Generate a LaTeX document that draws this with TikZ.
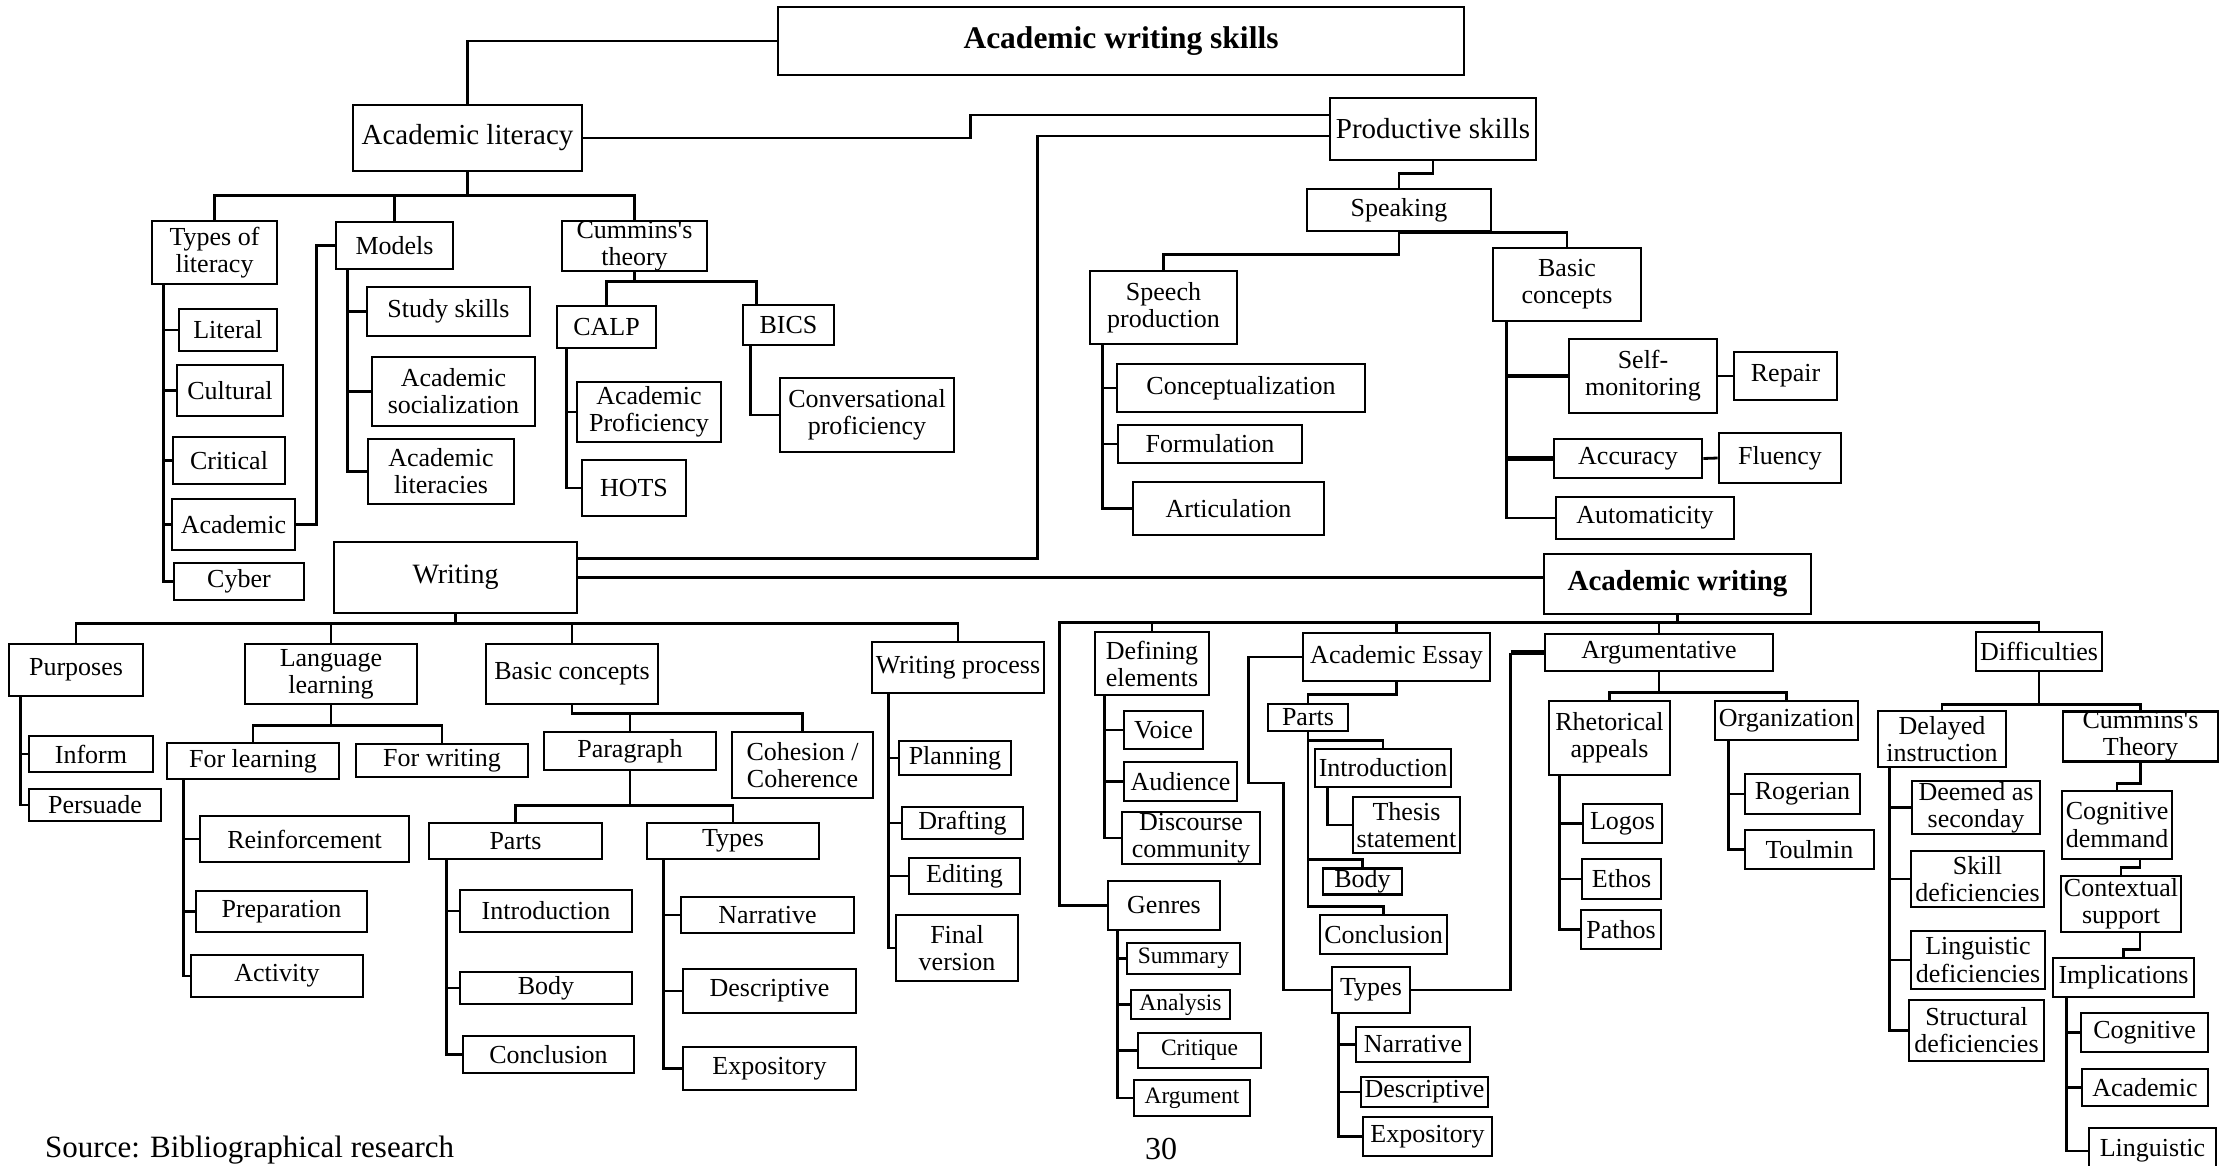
\documentclass[tikz,border=0pt]{standalone}
\usepackage{fontspec}
\setmainfont{Liberation Serif}
\newcommand\fsz[1]{\fontsize{#1pt}{1.04\dimexpr#1pt\relax}\selectfont}
\tikzset{
  box/.style={draw, line width=2.8pt, inner sep=1pt, align=center, font=\fsz{26}},
  ln/.style={line width=2.8pt},
  thk/.style={line width=4.6pt}
}
% #1 options, #2 name, #3 x1, #4 y1, #5 x2, #6 y2, #7 text
\newcommand\Bx[7][]{\node[box,minimum width={(#5)-(#3)-2},minimum height={(#6)-(#4)-2},#1] (#2) at ({((#3)+(#5))/2},{((#4)+(#6))/2}) {#7};}
\begin{document}
\begin{tikzpicture}[x=1pt,y=-1pt]
\useasboundingbox (0,0) rectangle (2221,1165);
\fill[white] (0,0) rectangle (2221,1165);

% ---------- top level
\Bx[font={\fsz{31.5}\bfseries}]{aws}{777}{6}{1465}{76}{Academic writing skills}
\Bx[font=\fsz{29}]{al}{352}{104}{583}{172}{Academic literacy}
\Bx[font=\fsz{29}]{ps}{1329}{97}{1537}{161}{Productive skills}
\Bx[font=\fsz{28}]{wr}{333}{541}{578}{614}{Writing}
\Bx[font={\fsz{29}\bfseries}]{aw}{1543}{553}{1812}{615}{Academic writing}

% ---------- academic literacy branch
\Bx{tol}{151}{220}{278}{285}{Types of\\literacy}
\Bx{mod}{335}{221}{454}{270}{Models}
\Bx[inner sep=0pt]{cum}{561}{220}{708}{272}{Cummins{\textquotesingle}s\\theory}
\Bx{lit}{178}{308}{278}{352}{Literal}
\Bx{cul}{176}{364}{284}{417}{Cultural}
\Bx{cri}{172}{436}{286}{485}{Critical}
\Bx{aca}{171}{498}{296}{551}{Academic}
\Bx{cyb}{173}{562}{305}{601}{Cyber}
\Bx{stu}{366}{286}{531}{337}{Study skills}
\Bx{soc}{371}{356}{536}{427}{Academic\\socialization}
\Bx{lts}{367}{438}{515}{505}{Academic\\literacies}
\Bx{calp}{556}{305}{657}{349}{CALP}
\Bx{bics}{742}{304}{835}{346}{BICS}
\Bx{apr}{576}{381}{722}{443}{Academic\\Proficiency}
\Bx{hots}{581}{459}{687}{517}{HOTS}
\Bx{conv}{779}{377}{955}{453}{Conversational\\proficiency}

% ---------- speaking branch
\Bx{spk}{1306}{188}{1492}{232}{Speaking}
\Bx{spp}{1089}{270}{1238}{345}{Speech\\production}
\Bx{bcs}{1492}{247}{1642}{322}{Basic\\concepts}
\Bx{con}{1116}{363}{1366}{413}{Conceptualization}
\Bx{frm}{1117}{424}{1303}{464}{Formulation}
\Bx{art}{1132}{481}{1325}{536}{Articulation}
\Bx{sm}{1568}{338}{1718}{414}{Self-\\monitoring}
\Bx{rep}{1733}{351}{1838}{401}{Repair}
\Bx{acc}{1553}{438}{1703}{479}{Accuracy}
\Bx{flu}{1718}{432}{1842}{484}{Fluency}
\Bx{aut}{1555}{496}{1735}{540}{Automaticity}

% ---------- writing branch
\Bx{pur}{8}{643}{144}{697}{Purposes}
\Bx{ll}{244}{643}{418}{705}{Language\\learning}
\Bx{bcw}{485}{643}{659}{705}{Basic concepts}
\Bx{wp}{871}{641}{1045}{694}{Writing process}
\Bx{inf}{28}{735}{154}{773}{Inform}
\Bx{per}{28}{788}{162}{822}{Persuade}
\Bx{fl}{166}{742}{340}{780}{For learning}
\Bx{fw}{355}{743}{529}{778}{For writing}
\Bx{rei}{199}{815}{410}{863}{Reinforcement}
\Bx{pre}{195}{890}{368}{933}{Preparation}
\Bx{act}{190}{954}{364}{998}{Activity}
\Bx{par}{543}{731}{717}{771}{Paragraph}
\Bx{coh}{731}{731}{874}{799}{Cohesion /\\Coherence}
\Bx{prt}{428}{822}{603}{860}{Parts}
\Bx{typ}{646}{822}{820}{860}{Types}
\Bx{intro}{459}{889}{633}{933}{Introduction}
\Bx{body}{459}{971}{633}{1005}{Body}
\Bx{conc}{462}{1035}{635}{1074}{Conclusion}
\Bx{nar}{680}{896}{855}{934}{Narrative}
\Bx{des}{682}{968}{857}{1014}{Descriptive}
\Bx{exp}{682}{1046}{857}{1091}{Expository}
\Bx{pla}{898}{740}{1012}{776}{Planning}
\Bx{dra}{901}{806}{1024}{840}{Drafting}
\Bx{edi}{908}{857}{1021}{895}{Editing}
\Bx{fin}{895}{914}{1019}{982}{Final\\version}

% ---------- academic writing branch
\Bx{def}{1094}{631}{1210}{696}{Defining\\elements}
\Bx{gen}{1107}{880}{1221}{931}{Genres}
\Bx{voi}{1123}{710}{1204}{750}{Voice}
\Bx{aud}{1123}{761}{1238}{802}{Audience}
\Bx{dis}{1121}{811}{1261}{865}{Discourse\\community}
\Bx[font=\fsz{23.5}]{sum}{1126}{942}{1241}{975}{Summary}
\Bx[font=\fsz{23.5}]{ana}{1130}{989}{1231}{1020}{Analysis}
\Bx[font=\fsz{23.5}]{crq}{1137}{1032}{1262}{1069}{Critique}
\Bx[font=\fsz{23.5}]{agm}{1133}{1079}{1251}{1117}{Argument}
\Bx{ae}{1302}{632}{1491}{682}{Academic Essay}
\Bx{pt2}{1267}{703}{1349}{732}{Parts}
\Bx{in2}{1314}{748}{1452}{788}{Introduction}
\Bx{th}{1352}{796}{1461}{854}{Thesis\\statement}
\Bx{bo2}{1322}{868}{1403}{895}{Body}
\Bx{cn2}{1319}{914}{1448}{955}{Conclusion}
\Bx{ty2}{1331}{966}{1411}{1014}{Types}
\Bx{na2}{1355}{1026}{1471}{1063}{Narrative}
\Bx{de2}{1360}{1076}{1489}{1108}{Descriptive}
\Bx{ex2}{1362}{1116}{1493}{1157}{Expository}
\Bx{arg}{1544}{633}{1774}{672}{Argumentative}
\Bx{rha}{1548}{700}{1671}{776}{Rhetorical\\appeals}
\Bx{org}{1714}{700}{1859}{741}{Organization}
\Bx{log}{1582}{803}{1663}{844}{Logos}
\Bx{eth}{1581}{858}{1662}{900}{Ethos}
\Bx{pat}{1580}{909}{1662}{950}{Pathos}
\Bx{rog}{1744}{773}{1861}{815}{Rogerian}
\Bx{tou}{1744}{829}{1875}{870}{Toulmin}
\Bx{dif}{1975}{631}{2103}{672}{Difficulties}
\Bx{del}{1877}{710}{2007}{768}{Delayed\\instruction}
\Bx[inner sep=0pt]{ct}{2062}{712}{2219}{761}{Cummins{\textquotesingle}s\\Theory}
\Bx{dee}{1911}{780}{2041}{835}{Deemed as\\seconday}
\Bx{ski}{1910}{850}{2045}{908}{Skill\\deficiencies}
\Bx{lin}{1910}{930}{2046}{990}{Linguistic\\deficiencies}
\Bx{str}{1908}{999}{2045}{1062}{Structural\\deficiencies}
\Bx{cd}{2061}{790}{2173}{860}{Cognitive\\demmand}
\Bx{cs}{2060}{875}{2182}{933}{Contextual\\support}
\Bx{imp}{2052}{957}{2195}{998}{Implications}
\Bx{cog}{2080}{1012}{2209}{1053}{Cognitive}
\Bx{acd}{2081}{1068}{2209}{1107}{Academic}
\Bx{lng}{2088}{1127}{2217}{1175}{Linguistic}

% ---------- free texts
\node[anchor=base west,font=\fsz{31},inner sep=0pt] (src) at (45,1157) {Source: Bibliographical research};
\node[anchor=base,font=\fsz{32},inner sep=0pt] (pg) at (1161,1159) {30};

% ---------- connectors: top
\draw[ln] (al.north) |- (aws.west);
\draw[ln] (al.east) -- ++(387,0) |- ([yshift=14pt]ps.west);
\draw[ln] ([yshift=19pt]wr.east) -| ([xshift=-291pt,yshift=-7pt]ps.west) -- ([yshift=-7pt]ps.west);
\draw[ln] (wr.east) -- (wr.east -| aw.west);

% academic literacy
\draw[ln] (al.south) -- ++(0,23) coordinate (alj);
\draw[ln] (tol.north) |- (alj) -| (cum.north);
\draw[ln] (mod.north) -- (mod.north |- alj);
\foreach \n in {lit,cul,cri,aca,cyb} \draw[ln] ([xshift=13pt]tol.south west) |- (\n.west);
\foreach \n in {stu,soc,lts} \draw[ln] ([xshift=13pt]mod.south west) |- (\n.west);
\draw[ln] (mod.west) -- ++(-18,0) |- (aca.east);
\draw[ln] (cum.south) -- ++(0,9) coordinate (cj);
\draw[ln] (calp.north) |- (cj) -| ([xshift=15pt]bics.north west);
\foreach \n in {apr,hots} \draw[ln] ([xshift=11pt]calp.south west) |- (\n.west);
\draw[ln] ([xshift=9pt]bics.south west) |- (conv.west);

% speaking
\draw[ln] (ps.south) -- ++(0,12) -| (spk.north);
\draw[ln] (spk.south) -- ++(0,22) -| (spp.north);
\draw[ln] (spk.south) -| (bcs.north);
\foreach \n in {con,frm,art} \draw[ln] ([xshift=14pt]spp.south west) |- (\n.west);
\draw[ln] ([xshift=15pt]bcs.south west) |- (aut.west);
\draw[thk] ([xshift=15pt]bcs.south west |- sm.west) -- (sm.west);
\draw[thk] ([xshift=15pt]bcs.south west |- acc.west) -- (acc.west);
\draw[ln] (sm.east) -- (rep.west);
\draw[ln] (acc.east) -- (flu.west);

% writing
\draw[ln] (wr.south) -- ++(0,9) coordinate (wj);
\draw[ln] (pur.north) |- (wj) -| (wp.north);
\draw[ln] (ll.north) -- (ll.north |- wj);
\draw[ln] (bcw.north) -- (bcw.north |- wj);
\foreach \n in {inf,per} \draw[ln] ([xshift=13pt]pur.south west) |- (\n.west);
\draw[ln] (ll.south) -- ++(0,20) coordinate (lj);
\draw[ln] (fl.north) |- (lj) -| (fw.north);
\foreach \n in {rei,pre,act} \draw[ln] ([xshift=18pt]fl.south west) |- (\n.west);
\draw[ln] (bcw.south) -- ++(0,8) -| (coh.north);
\draw[ln] (par.north) -- ++(0,-18);
\draw[ln] (par.south) -- ++(0,34) coordinate (pj);
\draw[ln] (prt.north) |- (pj) -| (typ.north);
\foreach \n in {intro,body,conc} \draw[ln] ([xshift=19pt]prt.south west) |- (\n.west);
\foreach \n in {nar,des,exp} \draw[ln] ([xshift=18pt]typ.south west) |- (\n.west);
\foreach \n in {pla,dra,edi,fin} \draw[ln] ([xshift=18pt]wp.south west) |- (\n.west);

% academic writing
\draw[ln] (aw.south) -- ++(0,7) coordinate (awj);
\draw[ln] (gen.west) -- ++(-47,0) |- (awj) -| (dif.north);
\draw[ln] (def.north) -- (def.north |- awj);
\draw[ln] (ae.north) -- (ae.north |- awj);
\draw[ln] (arg.north) -- (arg.north |- awj);
\foreach \n in {voi,aud,dis} \draw[ln] ([xshift=11pt]def.south west) |- (\n.west);
\foreach \n in {sum,ana,crq,agm} \draw[ln] ([xshift=11pt]gen.south west) |- (\n.west);
% academic essay
\draw[ln] (ae.west) -- ++(-53,0) -- ++(0,126) -- ++(35,0) |- (ty2.west);
\draw[ln] (ae.south) -- ++(0,12) -| (pt2.north);
\draw[ln] (pt2.south) -- ++(0,8) -| (in2.north);
\draw[ln] (pt2.south) -- ++(0,127) -| (bo2.north);
\draw[ln] (pt2.south) -- ++(0,174) -| (cn2.north);
\draw[ln] ([xshift=14pt]in2.south west) |- (th.west);
\foreach \n in {na2,de2,ex2} \draw[ln] ([xshift=8pt]ty2.south west) |- (\n.west);
\draw[ln] (ty2.east) -| ([xshift=-33pt]arg.west);
\draw[thk] ([xshift=-33pt]arg.west) -- (arg.west);
% argumentative
\draw[ln] (arg.south) -- ++(0,20) coordinate (aj);
\draw[ln] (rha.north) |- (aj) -| (org.north);
\foreach \n in {log,eth,pat} \draw[ln] ([xshift=12pt]rha.south west) |- (\n.west);
\foreach \n in {rog,tou} \draw[ln] ([xshift=15pt]org.south west) |- (\n.west);
% difficulties
\draw[ln] (dif.south) -- ++(0,32) coordinate (dj);
\draw[ln] (del.north) |- (dj) -| (ct.north);
\foreach \n in {dee,ski,lin,str} \draw[ln] ([xshift=13pt]del.south west) |- (\n.west);
\draw[ln] (ct.south) -- ++(0,21) -| (cd.north);
\draw[ln] ([xshift=23pt]cd.south) -- ++(0,7) -| (cs.north);
\draw[ln] ([xshift=19pt]cs.south) -- ++(0,16) -| (imp.north);
\foreach \n in {cog,acd,lng} \draw[ln] ([xshift=15pt]imp.south west) |- (\n.west);
\end{tikzpicture}
\end{document}
